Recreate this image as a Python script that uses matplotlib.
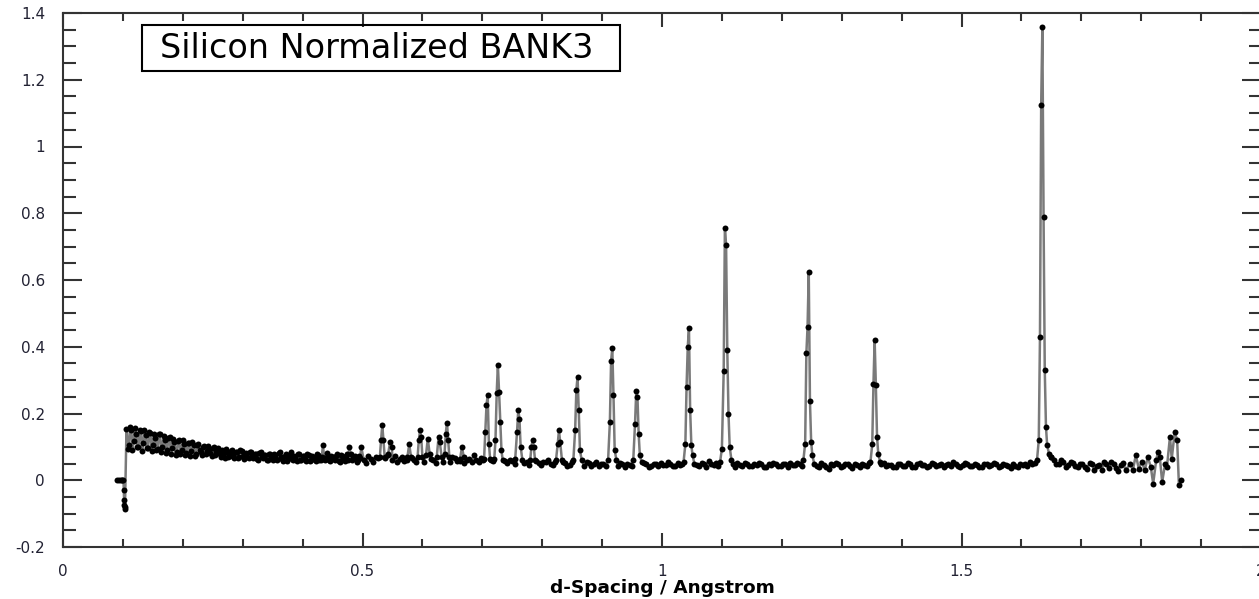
import numpy as np
import matplotlib
matplotlib.use("Agg")
import matplotlib.pyplot as plt
from matplotlib.ticker import MultipleLocator, FuncFormatter
from matplotlib.patches import Rectangle

plt.rcParams['axes.unicode_minus'] = False
plt.rcParams['font.family'] = ['DejaVu Sans']

# leading edge of the bank: flat zero then the dip below zero
start_d = [0.090, 0.093, 0.096, 0.099, 0.101, 0.1015, 0.102, 0.1025, 0.103, 0.1035]
start_y = [0.0, 0.0, 0.0, 0.0, 0.0, -0.03, -0.06, -0.075, -0.085, -0.08]

# low-d background, one reading every 0.004 A starting at 0.106 A
low_bg_first, low_bg_step = 0.106, 0.004
low_bg_y = [0.155, 0.105, 0.150, 0.118, 0.140, 0.100, 0.148, 0.112, 0.135, 0.098,
            0.142, 0.105, 0.128, 0.095, 0.138, 0.100, 0.122, 0.090, 0.130, 0.097,
            0.115, 0.085, 0.120, 0.092, 0.110, 0.082, 0.112, 0.088, 0.105, 0.080,
            0.108, 0.085, 0.100, 0.078, 0.104, 0.082, 0.096, 0.075, 0.098, 0.078,
            0.090, 0.068, 0.086, 0.072, 0.092, 0.066, 0.084, 0.070, 0.088, 0.064,
            0.082, 0.066, 0.086, 0.068, 0.078, 0.062, 0.084, 0.067, 0.076, 0.062,
            0.080, 0.062, 0.075, 0.060, 0.084, 0.064, 0.073, 0.058, 0.077, 0.063,
            0.074, 0.059, 0.080, 0.061, 0.072, 0.057, 0.076, 0.062, 0.070, 0.058,
            0.076, 0.060, 0.105, 0.062, 0.072, 0.058, 0.070, 0.060, 0.078, 0.056,
            0.072, 0.058, 0.080, 0.100, 0.062, 0.070, 0.056, 0.074, 0.100]

# the readings in between, every 0.004 A starting at 0.108 A
low_bg2_first, low_bg2_step = 0.108, 0.004
low_bg2_y = [0.095, 0.160, 0.092, 0.158, 0.100, 0.150, 0.088, 0.152, 0.098, 0.145,
             0.088, 0.140, 0.092, 0.138, 0.085, 0.134, 0.082, 0.128, 0.080, 0.125,
             0.076, 0.118, 0.080, 0.120, 0.075, 0.112, 0.072, 0.114, 0.074, 0.106,
             0.090, 0.076, 0.102, 0.088, 0.094, 0.072, 0.100, 0.084, 0.088, 0.070,
             0.082, 0.094, 0.070, 0.088, 0.076, 0.085, 0.068, 0.090, 0.074, 0.080,
             0.070, 0.085, 0.072, 0.080, 0.064, 0.082, 0.070, 0.076, 0.060, 0.080,
             0.068, 0.078, 0.064, 0.082, 0.070, 0.058, 0.078, 0.066, 0.084, 0.060,
             0.068, 0.078, 0.062, 0.074, 0.064, 0.080, 0.058, 0.072, 0.066, 0.078,
             0.062, 0.070, 0.066, 0.082, 0.060, 0.074, 0.064, 0.072, 0.058, 0.076,
             0.064, 0.074, 0.060, 0.080, 0.066, 0.072, 0.060, 0.068]

# background above 0.5 A, one reading every 0.008 A starting at 0.502 A
bg_first, bg_step = 0.502, 0.008
bg_y = [0.060, 0.072, 0.055, 0.068, 0.058, 0.075, 0.062, 0.056, 0.070, 0.060,
        0.066, 0.054, 0.070, 0.058, 0.064, 0.052, 0.068, 0.060, 0.056, 0.066,
        0.058, 0.052, 0.064, 0.075, 0.055, 0.062, 0.050, 0.058, 0.054, 0.060,
        0.052, 0.058, 0.048, 0.062, 0.055, 0.050, 0.058, 0.046, 0.054, 0.050,
        0.056, 0.048, 0.052, 0.045, 0.055, 0.050, 0.044, 0.052, 0.048, 0.042,
        0.050, 0.046, 0.052, 0.044, 0.048, 0.050, 0.042, 0.054, 0.046, 0.050,
        0.044, 0.048, 0.052, 0.045, 0.050, 0.043, 0.047, 0.052, 0.046, 0.050,
        0.044, 0.049, 0.058, 0.046, 0.042, 0.050, 0.045, 0.048, 0.052, 0.044,
        0.048, 0.042, 0.046, 0.050, 0.040, 0.045, 0.050, 0.043, 0.048, 0.052,
        0.045, 0.050, 0.046, 0.042, 0.048, 0.040, 0.046, 0.034, 0.045, 0.050,
        0.042, 0.048, 0.038, 0.045, 0.050, 0.044, 0.040, 0.046, 0.048, 0.042,
        0.046, 0.040, 0.050, 0.044, 0.048, 0.041, 0.052, 0.045, 0.042, 0.049,
        0.046, 0.040, 0.048, 0.055, 0.044, 0.047, 0.050, 0.043, 0.046, 0.041,
        0.048, 0.045, 0.050, 0.043, 0.046, 0.036, 0.044, 0.048, 0.050, 0.055,
        0.052, 0.060, 0.060, 0.060, 0.062, 0.050, 0.055, 0.045, 0.052, 0.040,
        0.048, 0.035, 0.050, 0.042, 0.030, 0.048, 0.055, 0.038, 0.045, 0.030]

# the readings in between, every 0.008 A starting at 0.506 A
bg2_first, bg2_step = 0.506, 0.008
bg2_y = [0.052, 0.064, 0.070, 0.058, 0.066, 0.052, 0.072, 0.064, 0.058, 0.068,
         0.060, 0.072, 0.056, 0.066, 0.060, 0.070, 0.054, 0.064, 0.070, 0.058,
         0.064, 0.060, 0.054, 0.062, 0.066, 0.052, 0.060, 0.064, 0.048, 0.058,
         0.060, 0.050, 0.056, 0.052, 0.046, 0.060, 0.052, 0.056, 0.062, 0.046,
         0.050, 0.056, 0.044, 0.054, 0.046, 0.052, 0.056, 0.042, 0.054, 0.050,
         0.044, 0.054, 0.046, 0.052, 0.040, 0.046, 0.052, 0.044, 0.052, 0.040,
         0.050, 0.042, 0.046, 0.054, 0.042, 0.052, 0.050, 0.044, 0.040, 0.046,
         0.052, 0.040, 0.048, 0.052, 0.056, 0.044, 0.050, 0.040, 0.046, 0.052,
         0.042, 0.050, 0.052, 0.040, 0.048, 0.052, 0.042, 0.050, 0.040, 0.046,
         0.052, 0.044, 0.050, 0.048, 0.044, 0.052, 0.040, 0.048, 0.052, 0.040,
         0.050, 0.044, 0.048, 0.040, 0.046, 0.052, 0.048, 0.042, 0.052, 0.046,
         0.040, 0.048, 0.044, 0.052, 0.040, 0.050, 0.046, 0.040, 0.052, 0.044,
         0.050, 0.046, 0.042, 0.050, 0.040, 0.052, 0.044, 0.050, 0.040, 0.050,
         0.042, 0.052, 0.040, 0.050, 0.044, 0.048, 0.040, 0.046, 0.044, 0.050,
         0.060, 0.110, 0.120, 0.070, 0.050, 0.060, 0.040, 0.056, 0.042, 0.050,
         0.040, 0.052, 0.030, 0.046, 0.056, 0.036, 0.050, 0.028, 0.052]

# noisy end of the bank
tail_d = [1.782, 1.786, 1.791, 1.796, 1.801, 1.806, 1.811, 1.816, 1.820, 1.825,
          1.828, 1.831, 1.835, 1.840, 1.843, 1.848, 1.851, 1.856, 1.860, 1.863, 1.866]
tail_y = [0.050, 0.030, 0.075, 0.035, 0.055, 0.030, 0.070, 0.040, -0.010, 0.060,
          0.085, 0.070, -0.005, 0.050, 0.040, 0.130, 0.065, 0.145, 0.120, -0.015, 0.000]

# Bragg peaks of silicon
peak_d = [
    [0.529, 0.531, 0.533, 0.535, 0.537],
    [0.543, 0.546, 0.549],
    [0.575, 0.578, 0.581],
    [0.592, 0.594, 0.596, 0.598, 0.600],
    [0.606, 0.609, 0.612],
    [0.624, 0.627, 0.629, 0.632],
    [0.637, 0.639, 0.641, 0.643, 0.645],
    [0.663, 0.666, 0.669],
    [0.703, 0.705, 0.707, 0.709, 0.711, 0.713],
    [0.720, 0.722, 0.724, 0.726, 0.728, 0.730, 0.732],
    [0.755, 0.758, 0.760, 0.762, 0.764, 0.767],
    [0.780, 0.782, 0.784, 0.786, 0.788],
    [0.823, 0.826, 0.828, 0.830, 0.833],
    [0.852, 0.855, 0.857, 0.859, 0.861, 0.863, 0.866],
    [0.910, 0.913, 0.915, 0.917, 0.919, 0.921, 0.924],
    [0.952, 0.955, 0.957, 0.959, 0.961, 0.963, 0.966],
    [1.036, 1.039, 1.041, 1.043, 1.045, 1.047, 1.049, 1.051, 1.054],
    [1.097, 1.100, 1.103, 1.105, 1.107, 1.109, 1.111, 1.113, 1.116],
    [1.236, 1.239, 1.241, 1.243, 1.245, 1.247, 1.249, 1.251, 1.254],
    [1.348, 1.351, 1.353, 1.355, 1.357, 1.359, 1.361, 1.364],
    [1.626, 1.629, 1.631, 1.633, 1.635, 1.637, 1.639, 1.641, 1.643, 1.646, 1.649],
]
peak_y = [
    [0.070, 0.120, 0.165, 0.120, 0.070],
    [0.080, 0.115, 0.100],
    [0.070, 0.108, 0.070],
    [0.070, 0.120, 0.150, 0.130, 0.070],
    [0.075, 0.125, 0.080],
    [0.070, 0.130, 0.115, 0.070],
    [0.080, 0.140, 0.173, 0.120, 0.070],
    [0.065, 0.100, 0.070],
    [0.065, 0.145, 0.225, 0.255, 0.110, 0.065],
    [0.065, 0.120, 0.260, 0.345, 0.265, 0.175, 0.090],
    [0.065, 0.145, 0.210, 0.185, 0.100, 0.060],
    [0.060, 0.100, 0.120, 0.100, 0.060],
    [0.060, 0.110, 0.150, 0.115, 0.060],
    [0.060, 0.150, 0.270, 0.310, 0.210, 0.090, 0.060],
    [0.060, 0.175, 0.357, 0.395, 0.255, 0.090, 0.060],
    [0.060, 0.170, 0.267, 0.250, 0.140, 0.075, 0.055],
    [0.055, 0.108, 0.280, 0.400, 0.455, 0.210, 0.105, 0.075, 0.050],
    [0.055, 0.095, 0.327, 0.757, 0.704, 0.390, 0.200, 0.100, 0.060],
    [0.060, 0.110, 0.380, 0.460, 0.623, 0.237, 0.115, 0.075, 0.050],
    [0.055, 0.108, 0.287, 0.420, 0.285, 0.130, 0.080, 0.055],
    [0.060, 0.120, 0.430, 1.123, 1.357, 0.790, 0.330, 0.160, 0.105, 0.080, 0.070],
]

# assemble one continuous pattern ordered by d
low_bg_d = low_bg_first + low_bg_step * np.arange(len(low_bg_y))
low_bg2_d = low_bg2_first + low_bg2_step * np.arange(len(low_bg2_y))
bg_d = bg_first + bg_step * np.arange(len(bg_y))
bg2_d = bg2_first + bg2_step * np.arange(len(bg2_y))
bd = np.concatenate([low_bg_d, low_bg2_d, bg_d, bg2_d])
by = np.concatenate([low_bg_y, low_bg2_y, bg_y, bg2_y])
keep = np.ones(len(bd), dtype=bool)
for pd_ in peak_d:
    keep &= ~((bd >= min(pd_)) & (bd <= max(pd_)))
d_all = np.concatenate([start_d, bd[keep], tail_d] + [np.array(p) for p in peak_d])
y_all = np.concatenate([start_y, by[keep], tail_y] + [np.array(p) for p in peak_y])
order = np.argsort(d_all, kind='stable')
d_all = d_all[order]
y_all = y_all[order]

fig = plt.figure(figsize=(12.59, 5.99), dpi=100)
ax = fig.add_axes([63 / 1259, 52 / 599, 1198 / 1259, 534 / 599])

ax.plot(d_all, y_all, color='#7a7a7a', lw=1.8, marker='o', ms=4.3,
        mfc='black', mec='black', mew=0)

ax.set_xlim(0, 2)
ax.set_ylim(-0.2, 1.4)
ax.xaxis.set_major_locator(MultipleLocator(0.5))
ax.xaxis.set_minor_locator(MultipleLocator(0.1))
ax.yaxis.set_major_locator(MultipleLocator(0.2))
ax.yaxis.set_minor_locator(MultipleLocator(0.05))
fmt = FuncFormatter(lambda v, p: '%g' % round(v, 3))
ax.xaxis.set_major_formatter(fmt)
ax.yaxis.set_major_formatter(fmt)

for s in ax.spines.values():
    s.set_linewidth(1.5)
    s.set_color('#333333')
ax.tick_params(axis='y', which='major', direction='in', length=13.5, width=1.5,
               left=True, right=True, pad=13, labelsize=11, labelcolor='#222233', color='#333333')
ax.tick_params(axis='y', which='minor', direction='in', length=9, width=1.5,
               left=True, right=True, color='#333333')
ax.tick_params(axis='x', which='major', direction='in', length=10, width=1.5,
               bottom=True, top=True, pad=12, labelsize=11, labelcolor='#222233', color='#333333')
ax.tick_params(axis='x', which='minor', direction='in', length=6, width=1.5,
               bottom=True, top=True, color='#333333')

ax.set_xlabel('d-Spacing / Angstrom', fontsize=13.3, fontweight='bold', labelpad=0)

# title box in the upper left corner
fig.patches.append(Rectangle((142 / 1259, 1 - 71 / 599), 478 / 1259, 46 / 599,
                             transform=fig.transFigure, fill=False, ec='black', lw=1.5))
fig.text(377 / 1259, 1 - 49 / 599, 'Silicon Normalized BANK3', fontsize=24,
         ha='center', va='center')

fig.savefig('out.png', dpi=100)
